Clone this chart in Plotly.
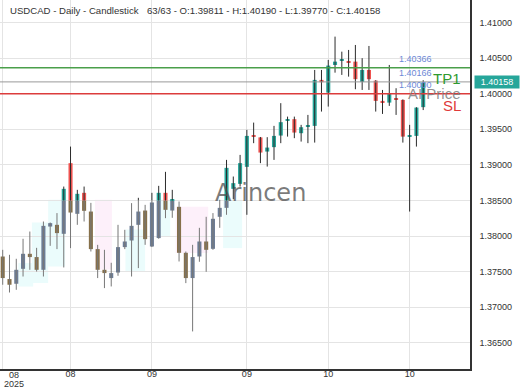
import plotly.graph_objects as go
import pandas as pd

# ---------------- data ----------------
dates = pd.bdate_range("2025-08-05", periods=63).strftime("%Y-%m-%d").tolist()

opens = [1.37712, 1.37395, 1.37329, 1.37539, 1.37750, 1.37704, 1.37525, 1.38133, 1.38157, 1.38031,
         1.38663, 1.38733, 1.39024, 1.38312, 1.38607, 1.38344, 1.37816, 1.37525, 1.37409, 1.37487,
         1.37844, 1.37937, 1.38157, 1.38358, 1.37853, 1.37971, 1.38607, 1.38358, 1.38410, 1.37764,
         1.37409, 1.37712, 1.37923, 1.37820, 1.38270, 1.38396, 1.38972, 1.39414, 1.39386, 1.39187,
         1.39249, 1.39412, 1.39618, 1.39642, 1.39445, 1.39541, 1.39548, 1.40194, 1.40015, 1.40404,
         1.40461, 1.40458, 1.40451, 1.40166, 1.40334, 1.40184, 1.39899, 1.39875, 1.39937, 1.39913,
         1.39393, 1.39407, 1.39811]
highs = [1.37806, 1.37736, 1.37680, 1.37961, 1.38063, 1.37834, 1.38204, 1.38190, 1.38322, 1.38695,
         1.38836, 1.39140, 1.39257, 1.38649, 1.38695, 1.38466, 1.37876, 1.37806, 1.37624, 1.38157,
         1.38087, 1.38462, 1.38537, 1.38438, 1.38607, 1.38705, 1.38902, 1.38649, 1.38485, 1.37782,
         1.37876, 1.38115, 1.38270, 1.38322, 1.38508, 1.39070, 1.39492, 1.39594, 1.39392, 1.39389,
         1.39548, 1.39867, 1.39678, 1.39678, 1.39562, 1.39702, 1.40334, 1.40334, 1.40475, 1.40802,
         1.40591, 1.40615, 1.40685, 1.40499, 1.40671, 1.40190, 1.40053, 1.40404, 1.40077, 1.39920,
         1.39562, 1.39810, 1.40190]
lows = [1.37315, 1.37206, 1.37244, 1.37431, 1.37525, 1.37501, 1.37431, 1.37862, 1.37816, 1.37558,
        1.38518, 1.38695, 1.37830, 1.38157, 1.38204, 1.37782, 1.37409, 1.37268, 1.37291, 1.37441,
        1.37816, 1.37431, 1.37549, 1.37876, 1.37845, 1.37962, 1.38251, 1.38256, 1.37642, 1.37338,
        1.36659, 1.37638, 1.37497, 1.37806, 1.38115, 1.38298, 1.38298, 1.39305, 1.39024, 1.38976,
        1.39070, 1.39305, 1.39397, 1.39375, 1.39327, 1.39305, 1.39313, 1.39749, 1.39819, 1.40296,
        1.40264, 1.40240, 1.40063, 1.40053, 1.40053, 1.39749, 1.39716, 1.39829, 1.39702, 1.39313,
        1.38344, 1.39257, 1.39770]
closes = [1.37409, 1.37315, 1.37525, 1.37750, 1.37704, 1.37525, 1.38143, 1.38181, 1.38041, 1.38663,
          1.38743, 1.39024, 1.38330, 1.38593, 1.38354, 1.37816, 1.37525, 1.37479, 1.37479, 1.37844,
          1.37923, 1.38143, 1.38344, 1.37956, 1.38471, 1.38607, 1.38368, 1.38518, 1.37764, 1.37409,
          1.37704, 1.37923, 1.37806, 1.38242, 1.38396, 1.38958, 1.39407, 1.39400, 1.39173, 1.39243,
          1.39407, 1.39600, 1.39642, 1.39454, 1.39529, 1.39555, 1.40194, 1.40162, 1.40395, 1.40451,
          1.40475, 1.40444, 1.40204, 1.40334, 1.40204, 1.39899, 1.39875, 1.39997, 1.39913, 1.39397,
          1.39417, 1.39805, 1.40158]

tick_idx = [0, 12, 24, 36, 48, 60]
tick_text = ["", "08", "09", "09", "10", "10"]
first_month, first_year = "08", "2025"

y_ticks = [1.365, 1.370, 1.375, 1.380, 1.385, 1.390, 1.395, 1.400, 1.405, 1.410]

tp1_level = 1.40366
ai_level = 1.40166
sl_level = 1.40000
last_price = 1.40158

# shaded background zones: (start idx, end idx, low price, high price, kind)
zone_start = [2.3, 4.3, 6.7, 13.6, 18.1, 23.2, 25.5, 32.5]
zone_end = [4.5, 6.7, 9.2, 16.1, 21.0, 24.7, 30.3, 35.3]
zone_low = [1.3729, 1.3734, 1.3757, 1.3753, 1.3750, 1.3799, 1.3776, 1.3783]
zone_high = [1.3762, 1.3819, 1.3851, 1.3851, 1.3809, 1.3851, 1.3841, 1.3851]
zone_kind = ["c", "c", "c", "p", "c", "c", "p", "c"]

title_left = "USDCAD - Daily - Candlestick"
title_right = "63/63 - O:1.39811 - H:1.40190 - L:1.39770 - C:1.40158"

# ---------------- styles ----------------
UP, DN = "#26a69a", "#ef5350"
UP_M, DN_M = "#6d7d96", "#86704a"
WICK, WICK_M = "#2b2b2b", "#777777"
MUTED_PRICE = 1.385
MUTED_LAST = 35
FONT = "Liberation Sans, Arial, sans-serif"

bx, bbase, bh, bcol = [], [], [], []
wx, wy, wxm, wym = [], [], [], []
for i, d in enumerate(dates):
    o, h, l, c = opens[i], highs[i], lows[i], closes[i]
    up = c >= o
    lo, hi = min(o, c), max(o, c)
    if hi - lo < 0.00012:
        mid = (hi + lo) / 2
        lo, hi = mid - 0.00006, mid + 0.00006
    muted = i <= MUTED_LAST
    pure_c = UP if up else DN
    mut_c = UP_M if up else DN_M
    if muted and lo < MUTED_PRICE:
        top = min(hi, MUTED_PRICE)
        bx.append(d); bbase.append(lo); bh.append(top - lo); bcol.append(mut_c)
        if hi > MUTED_PRICE:
            bx.append(d); bbase.append(MUTED_PRICE); bh.append(hi - MUTED_PRICE); bcol.append(pure_c)
    else:
        bx.append(d); bbase.append(lo); bh.append(hi - lo); bcol.append(pure_c)
    if muted and l < MUTED_PRICE:
        wxm += [d, d, None]; wym += [l, min(h, MUTED_PRICE), None]
        if h > MUTED_PRICE:
            wx += [d, d, None]; wy += [MUTED_PRICE, h, None]
    else:
        wx += [d, d, None]; wy += [l, h, None]

fig = go.Figure()
fig.add_trace(go.Scatter(x=wxm, y=wym, mode="lines", line=dict(color=WICK_M, width=1), hoverinfo="skip"))
fig.add_trace(go.Scatter(x=wx, y=wy, mode="lines", line=dict(color=WICK, width=1), hoverinfo="skip"))
fig.add_trace(go.Bar(x=bx, y=bh, base=bbase, width=0.6, marker=dict(color=bcol, line=dict(width=0))))

shapes = []
for s, e, lo, hi, k in zip(zone_start, zone_end, zone_low, zone_high, zone_kind):
    shapes.append(dict(type="rect", xref="x", yref="y", x0=s, x1=e, y0=lo, y1=hi,
                       fillcolor="#ebfcfc" if k == "c" else "#fdf0fa", line=dict(width=0), layer="below"))
for lvl, col, w in [(tp1_level, "#4a9f4a", 1.5), (ai_level, "#9a9a9a", 1), (sl_level, "#dc3c3c", 1.5)]:
    shapes.append(dict(type="line", xref="paper", yref="y", x0=0, x1=1, y0=lvl, y1=lvl,
                       line=dict(color=col, width=w), layer="above"))

ann = []
ann.append(dict(text=title_left, xref="paper", yref="paper", x=8 / 470, y=1, yshift=-10,
                xanchor="left", yanchor="middle", showarrow=False, font=dict(family=FONT, size=9.6, color="#333")))
ann.append(dict(text=title_right, xref="paper", yref="paper", x=145 / 470, y=1, yshift=-10,
                xanchor="left", yanchor="middle", showarrow=False, font=dict(family=FONT, size=9.6, color="#333")))
ann.append(dict(text="Arincen", xref="paper", yref="paper", x=260 / 470, y=1 - 193 / 369.3,
                xanchor="center", yanchor="middle", showarrow=False,
                font=dict(family="DejaVu Sans, Verdana, sans-serif", size=24, color="rgba(80,80,80,0.75)")))
for lvl in [tp1_level, ai_level, sl_level]:
    ann.append(dict(text=f"{lvl:.5f}", xref="x", yref="y", x=58.1, y=lvl, yshift=2,
                    xanchor="left", yanchor="bottom", showarrow=False,
                    font=dict(family=FONT, size=9, color="#6d88d6")))
ann.append(dict(text="TP1", xref="paper", yref="y", x=463 / 470, y=ai_level, yshift=3,
                xanchor="right", yanchor="middle", showarrow=False, font=dict(family=FONT, size=15, color="#2e9a2e")))
ann.append(dict(text="AI Price", xref="paper", yref="y", x=463 / 470, y=sl_level, yshift=0,
                xanchor="right", yanchor="middle", showarrow=False, font=dict(family=FONT, size=15, color="rgba(125,125,125,0.85)")))
ann.append(dict(text="SL", xref="paper", yref="y", x=463 / 470, y=sl_level, yshift=-12,
                xanchor="right", yanchor="middle", showarrow=False, font=dict(family=FONT, size=15, color="#e03a3a")))
ann.append(dict(text=f"{last_price:.5f}", xref="paper", yref="y", x=1, xshift=4, y=last_price,
                xanchor="left", yanchor="middle", showarrow=False, bgcolor=UP, width=44, height=12,
                borderpad=0, font=dict(family=FONT, size=9, color="white")))
ann.append(dict(text=first_month, xref="paper", yref="paper", x=13.5 / 470, y=0, yshift=-6,
                xanchor="center", yanchor="middle", showarrow=False, font=dict(family=FONT, size=9, color="#333")))
ann.append(dict(text=first_year, xref="paper", yref="paper", x=13.5 / 470, y=0, yshift=-14.5,
                xanchor="center", yanchor="middle", showarrow=False, font=dict(family=FONT, size=9, color="#333")))

fig.update_layout(
    width=520, height=390, margin=dict(l=0, r=50, t=0, b=21),
    plot_bgcolor="white", paper_bgcolor="white", showlegend=False,
    barmode="overlay", shapes=shapes, annotations=ann,
    font=dict(family=FONT, size=9, color="#333"),
    xaxis=dict(type="category", range=[-0.4, 68.9], tickmode="array",
               tickvals=[dates[i] for i in tick_idx], ticktext=tick_text,
               showgrid=True, gridcolor="#e4e4e4", gridwidth=1, showline=True, linecolor="#333",
               linewidth=1.5, ticks="", ticklen=0, ticklabelstandoff=-5,
               tickfont=dict(family=FONT, size=9, color="#333"), zeroline=False),
    yaxis=dict(side="right", range=[1.36131, 1.41317], tickmode="array", tickvals=y_ticks,
               ticktext=[f"{v:.5f}" for v in y_ticks], showgrid=True, gridcolor="#e4e4e4",
               showline=True, linecolor="#333", linewidth=1.5, ticks="outside", ticklen=6,
               tickcolor="rgba(0,0,0,0)", tickfont=dict(family=FONT, size=9, color="#333"), zeroline=False),
)

fig.write_html("out.html")
